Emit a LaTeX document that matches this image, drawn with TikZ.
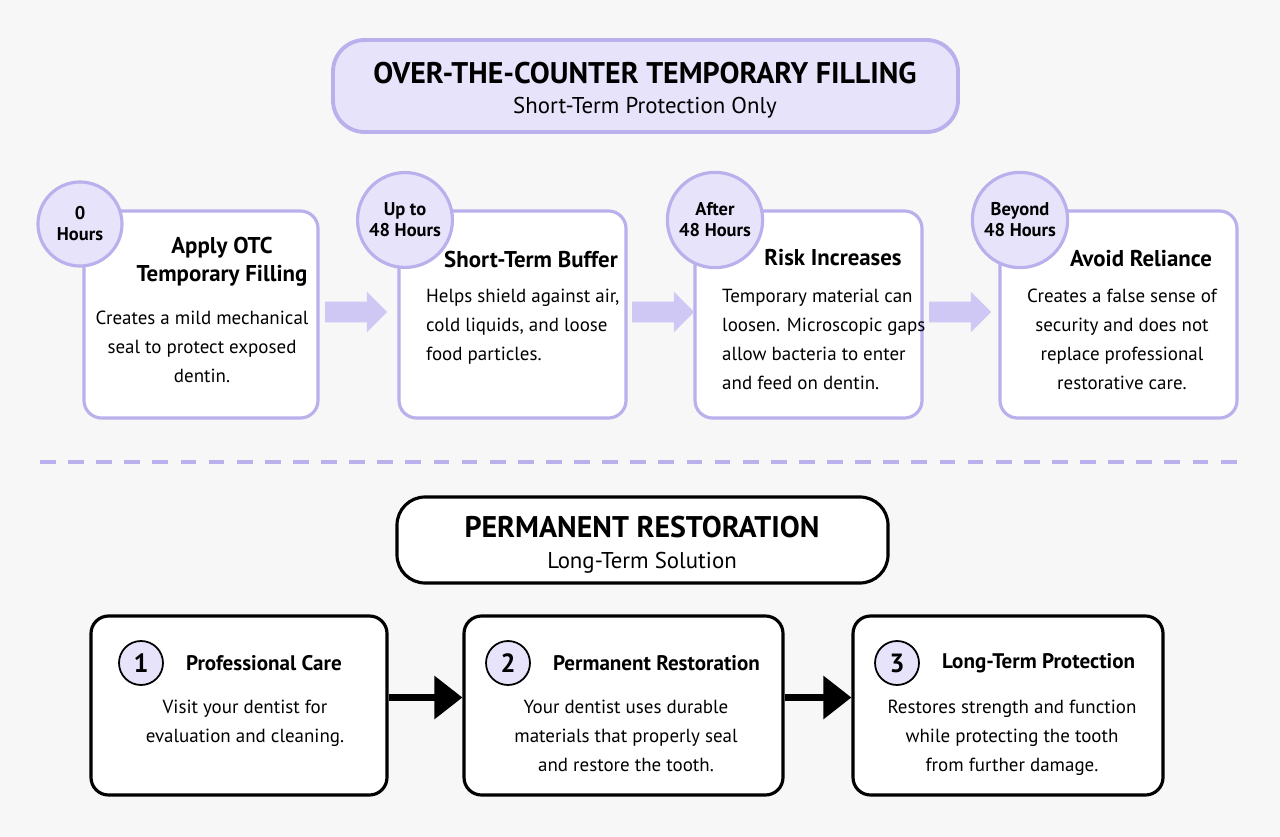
\documentclass[tikz,border=0pt]{standalone}
\usepackage{fontspec}
\setmainfont{PT Sans}
\usetikzlibrary{positioning,shapes.arrows,arrows.meta}
\definecolor{lav}{HTML}{E7E3FB}
\definecolor{lavline}{HTML}{B9B0EC}
\definecolor{lavarrow}{HTML}{CFC8F5}
\tikzset{
  head/.style={draw=lavline,line width=2.2pt,fill=lav,rounded corners=18pt},
  card/.style={draw=lavline,line width=1.8pt,fill=white,rounded corners=10pt},
  badge/.style={circle,draw=lavline,line width=1.8pt,fill=lav,minimum size=84*0.02cm,align=center,font=\fontsize{10.5}{12}\selectfont\bfseries},
  ttl/.style={font=\fontsize{13}{16}\selectfont\bfseries,align=center},
  txt/.style={font=\fontsize{10.8}{16.5}\selectfont,align=center},
  fat/.style={single arrow,fill=lavarrow,minimum height=62*0.02cm,text height=0.4cm,text depth=0pt,text width=0pt,inner sep=0pt,single arrow head extend=0.2cm},
  blk/.style={line width=3.5pt,-{Triangle[length=16pt,width=24pt]}},
  pbox/.style={draw=black,line width=1.8pt,fill=white,rounded corners=10pt},
  num/.style={circle,draw=black,line width=1pt,fill=lav,minimum size=44*0.02cm,font=\fontsize{15}{15}\selectfont\bfseries}
}
\begin{document}
\begin{tikzpicture}[x=0.02cm,y=-0.02cm]
  \fill[white!97!black] (0,0) rectangle (1280,837);

  % top header
  \draw[head] (333,40) rectangle (958,132);
  \node[font=\fontsize{17}{18}\selectfont\bfseries] (otc) at (645,73) {OVER-THE-COUNTER TEMPORARY FILLING};
  \node[font=\fontsize{13}{14}\selectfont] (otcsub) at (645,108) {Short-Term Protection Only};

  % timeline boxes
  \draw[card] (84,211) rectangle (318,418);
  \draw[card] (399,211) rectangle (626,418);
  \draw[card] (695,211) rectangle (922,418);
  \draw[card] (1000,211) rectangle (1237,418);
  \node[badge] (b0) at (80,224) {0\\Hours};
  \node[badge] (b1) at (405,220) {Up to\\48 Hours};
  \node[badge] (b2) at (715,220) {After\\48 Hours};
  \node[badge] (b3) at (1020,220) {Beyond\\48 Hours};

  \node[ttl] (t0) at (222,262) {Apply OTC\\Temporary Filling};
  \node[txt] (d0) at (202,347) {Creates a mild mechanical\\seal to protect exposed\\dentin.};
  \node[ttl] (t1) at (531,260) {Short-Term Buffer};
  \node[txt,align=left,anchor=north west] (d1) at (420,283) {Helps shield against air,\\cold liquids, and loose\\food particles.};
  \node[ttl] (t2) at (833,258) {Risk Increases};
  \node[txt,align=left,anchor=north west] (d2) at (716,283) {Temporary material can\\loosen. Microscopic gaps\\allow bacteria to enter\\and feed on dentin.};
  \node[ttl] (t3) at (1141,259) {Avoid Reliance};
  \node[txt,anchor=north] (d3) at (1122,283) {Creates a false sense of\\security and does not\\replace professional\\restorative care.};

  \node[fat] (a1) at (351,312) {};
  \node[fat] (a2) at (658,312) {};
  \node[fat] (a3) at (955,312) {};

  % separator
  \draw[lavline,line width=2pt,dash pattern=on 9pt off 7pt] (40,462) -- (1240,462);

  % bottom header
  \draw[pbox,rounded corners=16pt] (397,497) rectangle (888,583);
  \node[font=\fontsize{17}{18}\selectfont\bfseries] (perm) at (642,527) {PERMANENT RESTORATION};
  \node[font=\fontsize{13}{14}\selectfont] (permsub) at (642,563) {Long-Term Solution};

  % steps
  \node[pbox,minimum width=296*0.02cm,minimum height=179*0.02cm] (p1) at (239,705.5) {};
  \node[pbox,minimum width=319*0.02cm,minimum height=179*0.02cm] (p2) at (623.5,705.5) {};
  \node[pbox,minimum width=310*0.02cm,minimum height=179*0.02cm] (p3) at (1008,705.5) {};
  \node[num] (n1) at (141,663) {1};
  \node[num] (n2) at (508,663) {2};
  \node[num] (n3) at (897,663) {3};
  \node[ttl,font=\fontsize{12}{14}\selectfont\bfseries,right=16*0.02cm of n1] (h1) {Professional Care};
  \node[ttl,font=\fontsize{12}{14}\selectfont\bfseries,right=16*0.02cm of n2] (h2) {Permanent Restoration};
  \node[ttl,font=\fontsize{12}{14}\selectfont\bfseries,right=16*0.02cm of n3] (h3) {Long-Term Protection};
  \node[txt,anchor=north] (e1) at (245,694) {Visit your dentist for\\evaluation and cleaning.};
  \node[txt,anchor=north] (e2) at (626,694) {Your dentist uses durable\\materials that properly seal\\and restore the tooth.};
  \node[txt,anchor=north] (e3) at (1012,694) {Restores strength and function\\while protecting the tooth\\from further damage.};

  \draw[blk] (p1.east) ++(0,-8) coordinate (s1) -- (s1 -| p2.west);
  \draw[blk] (p2.east) ++(0,-8) coordinate (s2) -- (s2 -| p3.west);
\end{tikzpicture}
\end{document}
